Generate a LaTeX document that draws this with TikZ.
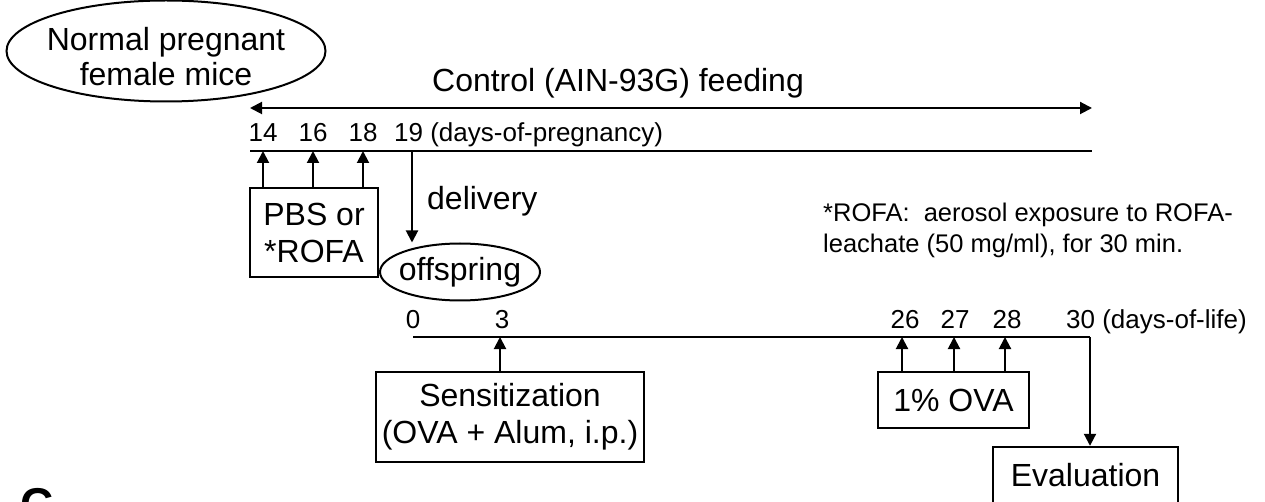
\documentclass[tikz,border=0pt]{standalone}
\usepackage{fontspec}
\setmainfont{Liberation Sans}
\usetikzlibrary{arrows.meta,shapes.geometric}
\begin{document}
\begin{tikzpicture}[x=1pt,y=-1pt,
  big/.style={font=\fontsize{32}{37}\selectfont},
  small/.style={font=\fontsize{26}{31}\selectfont},
  lbl/.style={small,anchor=base,inner sep=0pt},
  boxed/.style={draw,line width=2.4pt,inner sep=0pt,big,align=center},
  oval/.style={draw,ellipse,line width=2pt,inner xsep=-7pt,inner ysep=-4pt,big,align=center},
  tline/.style={line width=2pt},
  arr/.style={line width=2pt,-{Triangle[length=12pt,width=12pt]}},
  darr/.style={line width=2pt,{Triangle[length=12pt,width=12pt]}-{Triangle[length=12pt,width=12pt]}}
]
\useasboundingbox (0,0) rectangle (1265,502);
\clip (0,0) rectangle (1265,502);

% mother
\node[oval,font=\fontsize{32}{35}\selectfont,minimum width=319pt,minimum height=101pt] (mice) at (166,51) {\rule{0pt}{34pt}Normal pregnant\\female mice};
\node[big,anchor=base,inner sep=0pt] (feed) at (618,92) {Control (AIN-93G) feeding};
\coordinate (fa) at (250,108);
\coordinate (fb) at (1092,108);
\draw[darr] (fa) -- (fb);

% pregnancy timeline
\coordinate (ta) at (250,151);
\coordinate (tb) at (1092,151);
\draw[tline] (ta) -- (tb);
\node[lbl] (l14) at (263,142) {14};
\node[lbl] (l16) at (313,142) {16};
\node[lbl] (l18) at (363,142) {18};
\node[lbl,anchor=base west] (l19) at (394,142) {19 (days-of-pregnancy)};
\coordinate (t14) at (263,151);
\coordinate (t16) at (313,151);
\coordinate (t18) at (363,151);
\coordinate (t19) at (412,151);

\node[boxed,minimum width=128pt,minimum height=89pt] (pbs) at (314,232.5) {PBS or\\*ROFA};
\draw[arr] (pbs.north -| t14) -- (t14);
\draw[arr] (pbs.north -| t16) -- (t16);
\draw[arr] (pbs.north -| t18) -- (t18);

\node[oval,minimum width=160pt,minimum height=57pt] (off) at (460,272) {offspring};
\draw[arr] (t19) -- (t19 |- off.north);
\node[big,anchor=base west,inner sep=0pt] (deliv) at (427,210) {delivery};

\node[font=\fontsize{25.5}{31}\selectfont,anchor=base west,inner sep=0pt] (note1) at (823,222) {*ROFA:\ \ aerosol exposure to ROFA-};
\node[font=\fontsize{25.5}{31}\selectfont,anchor=base west,inner sep=0pt] (note2) at (823,253) {leachate (50 mg/ml), for 30 min.};

% life timeline
\coordinate (sa) at (413,337);
\coordinate (sb) at (1090,337);
\draw[tline] (sa) -- (sb);
\node[lbl] (l0) at (413,328) {0};
\node[lbl] (l3) at (502,328) {3};
\node[lbl] (l26) at (905,328) {26};
\node[lbl] (l27) at (955,328) {27};
\node[lbl] (l28) at (1007,328) {28};
\node[lbl,anchor=base west] (l30) at (1066,328) {30 (days-of-life)};
\coordinate (s3) at (500,337);
\coordinate (s26) at (902,337);
\coordinate (s27) at (954,337);
\coordinate (s28) at (1005,337);
\coordinate (s30) at (1090,337);

\node[boxed,minimum width=268pt,minimum height=90pt] (sens) at (510,417) {Sensitization\\(OVA + Alum, i.p.)};
\draw[arr] (sens.north -| s3) -- (s3);

\node[boxed,minimum width=151pt,minimum height=56pt] (ova) at (953.5,400) {1\% OVA};
\draw[arr] (ova.north -| s26) -- (s26);
\draw[arr] (ova.north -| s27) -- (s27);
\draw[arr] (ova.north -| s28) -- (s28);

\node[boxed,minimum width=185pt,minimum height=56pt] (eval) at (1085.5,475) {Evaluation};
\draw[arr] (s30) -- (s30 |- eval.north);

\node[font=\fontsize{46}{50}\selectfont\bfseries,anchor=base west,inner sep=0pt] (panel) at (20,520) {C};
\end{tikzpicture}
\end{document}
